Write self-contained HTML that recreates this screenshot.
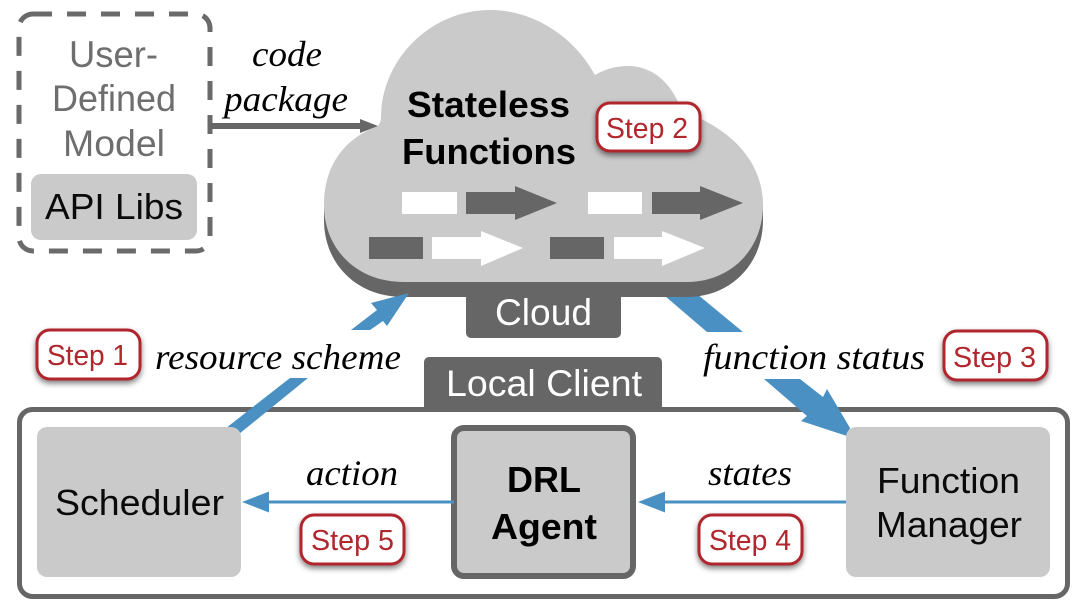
<!DOCTYPE html>
<html><head><meta charset="utf-8"><style>
html,body{margin:0;padding:0;background:#fff}
svg{display:block}
text{font-family:"Liberation Sans",sans-serif}
.i{font-family:"Liberation Serif",serif;font-style:italic;font-size:36px;fill:#000}
.s{font-size:29px;fill:#b0272d}
.k{font-size:36px;fill:#0a0a0a}
.g{font-size:37px;fill:#6e6e6e}
.b{font-size:36px;font-weight:bold;fill:#000}
.w{font-size:37px;fill:#fff}
</style></head><body>
<svg width="1080" height="607" viewBox="0 0 1080 607" xmlns="http://www.w3.org/2000/svg">
<defs>
<filter id="ds" x="-20%" y="-30%" width="140%" height="170%"><feDropShadow dx="0" dy="3" stdDeviation="3" flood-color="#000" flood-opacity=".5"/></filter>
<path id="cl" d="M403 282C358 282 324 250 324 205C324 165 345 138 378 126C378 126 381 122 381 118C381 60 430 10 490 10C535 10 575 38 595 75C605 69 616 66 628 66C652 66 672 82 682 112C712 120 763 150 763 205C763 250 730 282 687 282Z"/>
</defs>
<!-- dashed box -->
<rect x="19" y="14" width="191" height="237" rx="14" fill="none" stroke="#6a6a6a" stroke-width="5" stroke-dasharray="19 15"/>
<rect x="31" y="174" width="166" height="66" rx="10" fill="#cbcaca"/>
<text class="g" x="69" y="67" textLength="89" lengthAdjust="spacingAndGlyphs">User-</text>
<text class="g" x="52" y="111" textLength="124" lengthAdjust="spacingAndGlyphs">Defined</text>
<text class="g" x="63" y="156" textLength="102" lengthAdjust="spacingAndGlyphs">Model</text>
<text class="k" x="45" y="219" textLength="138" lengthAdjust="spacingAndGlyphs">API Libs</text>
<!-- code package -->
<text class="i" x="252" y="66" textLength="70" lengthAdjust="spacingAndGlyphs">code</text>
<text class="i" x="224" y="111" textLength="124" lengthAdjust="spacingAndGlyphs">package</text>
<!-- function status upper, behind cloud -->
<polygon points="665,296 697,294 743,332 707,332" fill="#4a90c2"/>
<!-- cloud tab -->
<rect x="466" y="280" width="155" height="58" rx="5" fill="#666"/>
<!-- cloud -->
<use href="#cl" y="15" fill="#666"/>
<rect x="324" y="205" width="439" height="16" fill="#666"/>
<use href="#cl" fill="#cbcaca"/>
<rect x="210" y="123" width="152" height="6" fill="#666"/>
<polygon points="378,126 360,119 360,133" fill="#666"/>
<polygon points="351,330 370,330 383,321 387,326 409,293 371,303 377,310" fill="#4a90c2"/>
<!-- small shapes -->
<rect x="402" y="192" width="55" height="22" fill="#fff"/>
<polygon points="466,192 515,192 515,186 557,203 515,220 515,214 466,214" fill="#666"/>
<rect x="588" y="192" width="54" height="22" fill="#fff"/>
<polygon points="652,192 700,192 700,186 743,203 700,220 700,214 652,214" fill="#666"/>
<rect x="369" y="237" width="54" height="22" fill="#666"/>
<polygon points="432,237 481,237 481,231 523,248 481,266 481,259 432,259" fill="#fff"/>
<rect x="550" y="237" width="54" height="22" fill="#666"/>
<polygon points="614,237 662,237 662,231 705,248 662,266 662,259 614,259" fill="#fff"/>
<text class="b" x="407" y="117" textLength="163" lengthAdjust="spacingAndGlyphs">Stateless</text>
<text class="b" x="402" y="164" textLength="174" lengthAdjust="spacingAndGlyphs">Functions</text>
<text class="w" x="495" y="325" textLength="97" lengthAdjust="spacingAndGlyphs">Cloud</text>
<!-- local client -->
<rect x="424" y="357" width="238" height="60" rx="5" fill="#666"/>
<rect x="19.500" y="409.500" width="1048" height="187" rx="13" fill="#fff" stroke="#666" stroke-width="5"/>
<text class="w" x="446" y="396" textLength="196" lengthAdjust="spacingAndGlyphs">Local Client</text>
<polygon points="221,432 290,378 308,378 239,434" fill="#4a90c2"/>
<polygon points="764,379 800,379 823,397 827,389 850,428 847,436 801,421 807,416" fill="#4a90c2"/>
<!-- nodes -->
<rect x="37" y="427" width="204" height="150" rx="10" fill="#cbcaca"/>
<rect x="846" y="427" width="204" height="150" rx="10" fill="#cbcaca"/>
<rect x="454" y="428" width="179" height="148" rx="10" fill="#cbcaca" stroke="#666" stroke-width="6"/>
<text class="k" x="55" y="515" textLength="169" lengthAdjust="spacingAndGlyphs">Scheduler</text>
<text class="k" x="877" y="493" textLength="143" lengthAdjust="spacingAndGlyphs">Function</text>
<text class="k" x="876" y="537" textLength="146" lengthAdjust="spacingAndGlyphs">Manager</text>
<text class="b" x="507" y="492" textLength="74" lengthAdjust="spacingAndGlyphs">DRL</text>
<text class="b" x="491" y="539" textLength="106" lengthAdjust="spacingAndGlyphs">Agent</text>
<!-- horizontal arrows -->
<rect x="268" y="500.500" width="186" height="3" fill="#4a90c2"/>
<polygon points="242,502 269,491.500 269,512.500" fill="#4a90c2"/>
<rect x="664" y="500.500" width="182" height="3" fill="#4a90c2"/>
<polygon points="638,502 665,491.500 665,512.500" fill="#4a90c2"/>
<!-- labels -->
<text class="i" x="155" y="369" textLength="246" lengthAdjust="spacingAndGlyphs">resource scheme</text>
<text class="i" x="703" y="369" textLength="222" lengthAdjust="spacingAndGlyphs">function status</text>
<text class="i" x="306" y="485" textLength="92" lengthAdjust="spacingAndGlyphs">action</text>
<text class="i" x="708" y="485" textLength="84" lengthAdjust="spacingAndGlyphs">states</text>
<!-- steps -->
<g fill="#fff" stroke="#b0272d" stroke-width="3" filter="url(#ds)">
<rect x="597" y="103" width="103" height="48" rx="13"/>
<rect x="37" y="330" width="103" height="49" rx="13"/>
<rect x="944" y="331" width="103" height="49" rx="13"/>
<rect x="301" y="515" width="103" height="49" rx="13"/>
<rect x="699" y="515" width="103" height="49" rx="13"/>
</g>
<text class="s" x="606" y="138" textLength="82" lengthAdjust="spacingAndGlyphs">Step 2</text>
<text class="s" x="47" y="365" textLength="81" lengthAdjust="spacingAndGlyphs">Step 1</text>
<text class="s" x="953" y="367" textLength="83" lengthAdjust="spacingAndGlyphs">Step 3</text>
<text class="s" x="311" y="550" textLength="83" lengthAdjust="spacingAndGlyphs">Step 5</text>
<text class="s" x="709" y="550" textLength="82" lengthAdjust="spacingAndGlyphs">Step 4</text>
</svg>
</body></html>
